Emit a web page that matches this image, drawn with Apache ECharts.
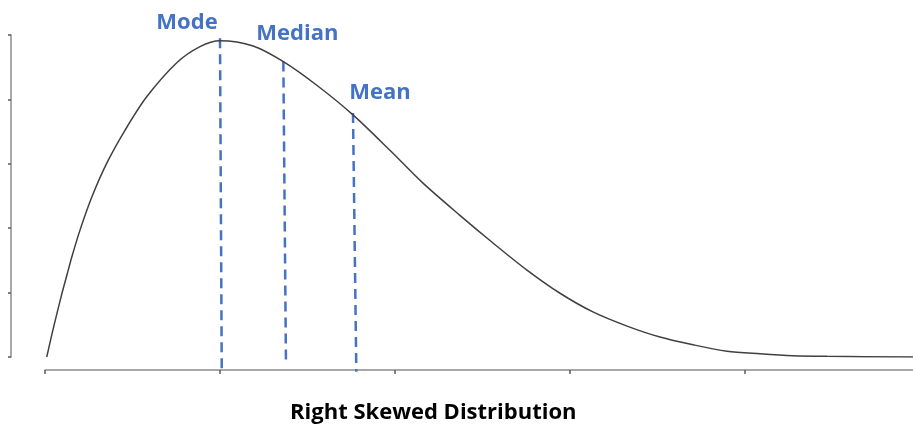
<!DOCTYPE html>
<html>
<head>
<meta charset="utf-8">
<script src="https://cdn.jsdelivr.net/npm/echarts@6/dist/echarts.min.js"></script>
<style>
  html, body { margin: 0; padding: 0; background: #fff; }
  #main { width: 913px; height: 432px; }
</style>
</head>
<body>
<div id="main"></div>
<script>
// curve
var curveX = [0.01, 0.04, 0.069, 0.097, 0.126, 0.154, 0.2, 0.267, 0.353, 0.457, 0.581, 0.753, 0.886, 1.0, 1.189, 1.36, 1.553, 1.76, 1.971, 2.16, 2.371, 2.56, 2.754, 2.943, 3.131, 3.326, 3.514, 3.703, 3.897, 4.086, 4.274, 4.469, 4.96];
var curveY = [0, 0.36, 0.685, 0.99, 1.28, 1.56, 1.97, 2.48, 3.01, 3.52, 4.04, 4.57, 4.82, 4.91, 4.83, 4.59, 4.22, 3.76, 3.21, 2.70, 2.20, 1.77, 1.35, 0.99, 0.70, 0.48, 0.31, 0.19, 0.09, 0.05, 0.02, 0.01, 0.0];

// dashed markers
var markerNames = ['Mode', 'Median', 'Mean'];
var markerTopX = [1.0, 1.362, 1.76];
var markerTopY = [4.95, 4.59, 3.79];
var markerBottomX = [1.01, 1.377, 1.779];
var markerBottomY = [-0.21, -0.11, -0.23];
var labelOffsets = [[-33, 1], [14, -12], [27, -4]];

var xTicks = [0, 1, 2, 3, 4];
var titleText = 'Right Skewed Distribution';

var myChart = echarts.init(document.getElementById('main'));

var series = [{
  type: 'line',
  data: curveX.map(function (x, i) { return [x, curveY[i]]; }),
  smooth: 0.3,
  symbol: 'none',
  lineStyle: { color: '#404040', width: 1.5 },
  z: 3
}];

for (var i = 0; i < markerNames.length; i++) {
  series.push({
    type: 'line',
    name: markerNames[i],
    clip: false,
    symbol: 'circle',
    symbolSize: 0,
    showSymbol: true,
    lineStyle: { color: '#4472C4', width: 2.5, type: [10, 6] },
    data: [
      {
        value: [markerTopX[i], markerTopY[i]],
        label: {
          show: true,
          position: 'top',
          offset: labelOffsets[i],
          formatter: markerNames[i],
          color: '#4472C4',
          fontSize: 22,
          fontWeight: 'bold',
          fontFamily: 'Open Sans'
        }
      },
      [markerBottomX[i], markerBottomY[i]]
    ],
    z: 2
  });
}

var option = {
  animation: false,
  title: {
    text: titleText,
    left: 285,
    top: 397,
    textStyle: { color: '#000', fontSize: 22, fontWeight: 'bold', fontFamily: 'Open Sans' }
  },
  grid: { left: 45, right: 0, top: 35, bottom: 75 },
  xAxis: {
    type: 'value',
    min: 0,
    max: 4.96,
    interval: 1,
    offset: 13,
    splitLine: { show: false },
    axisLine: { show: true, onZero: false, lineStyle: { color: '#8c8c8c', width: 1.5 } },
    axisTick: {
      show: true, length: 4, lineStyle: { color: '#595959', width: 1.5 },
      customValues: xTicks
    },
    axisLabel: { show: false }
  },
  yAxis: {
    type: 'value',
    min: 0,
    max: 5,
    interval: 1,
    offset: 34,
    splitLine: { show: false },
    axisLine: { show: true, onZero: false, lineStyle: { color: '#8c8c8c', width: 1.5 } },
    axisTick: { show: true, length: 3, lineStyle: { color: '#595959', width: 1.5 } },
    axisLabel: { show: false }
  },
  series: series
};

myChart.setOption(option);
</script>
</body>
</html>
